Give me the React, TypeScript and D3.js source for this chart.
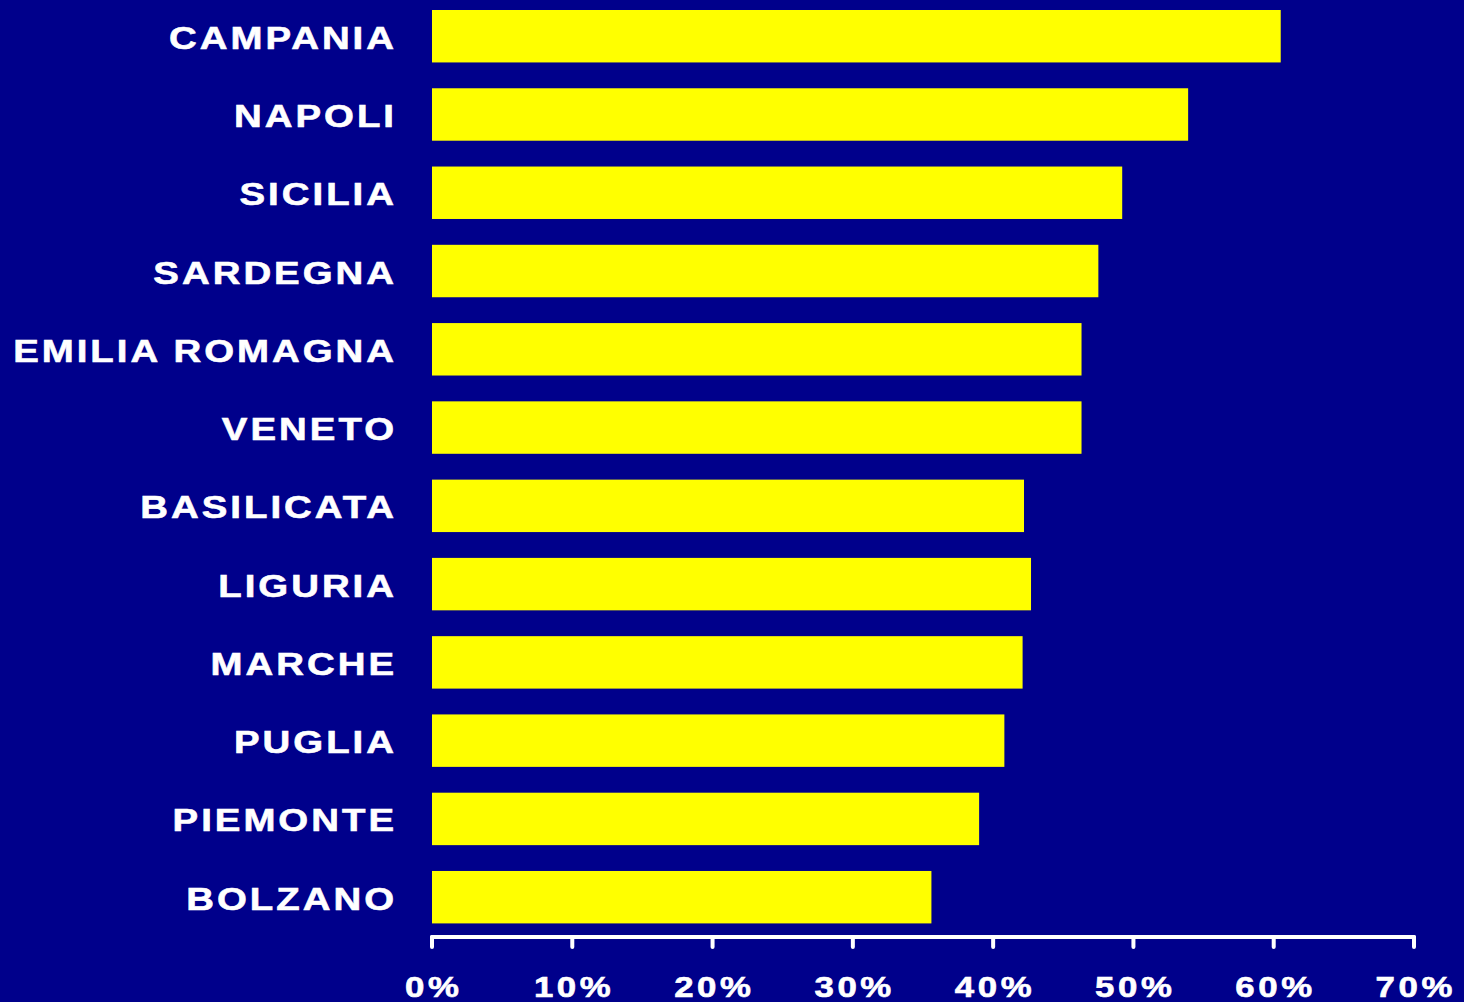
import React from "react";
import * as d3 from "d3";

const categories = [
  "CAMPANIA",
  "NAPOLI",
  "SICILIA",
  "SARDEGNA",
  "EMILIA ROMAGNA",
  "VENETO",
  "BASILICATA",
  "LIGURIA",
  "MARCHE",
  "PUGLIA",
  "PIEMONTE",
  "BOLZANO",
];
const values = [60.5, 53.9, 49.2, 47.5, 46.3, 46.3, 42.2, 42.7, 42.1, 40.8, 39.0, 35.6];
const ticks = [0, 10, 20, 30, 40, 50, 60, 70];

const W = 1464;
const H = 1002;
const BG = "#00008B";
const BAR = "#FFFF00";
const SX = 1.2;
const LS = 2.5;
const TLS = 3;

export default function App() {
  const x = d3.scaleLinear().domain([0, 70]).range([432, 1414]);
  const pad = 0.33;
  const step = 78.27;
  const r0 = 10 - pad * step;
  const y = d3
    .scaleBand<string>()
    .domain(categories)
    .range([r0, r0 + step * (categories.length + pad)])
    .padding(pad);
  const axisY = 937;

  return (
    <svg
      width={W}
      height={H}
      style={{ position: "absolute", left: 0, top: 0, background: BG }}
      fontFamily="'Liberation Sans', Arial, sans-serif"
    >
      <rect x={0} y={0} width={W} height={H} fill={BG} />
      {categories.map((c, i) => (
        <rect
          key={c}
          x={x(0)}
          y={y(c)}
          width={x(values[i]) - x(0)}
          height={y.bandwidth()}
          fill={BAR}
        />
      ))}
      {categories.map((c) => (
        <text
          key={"l" + c}
          transform={`translate(394,${(y(c) as number) + y.bandwidth() / 2 + 12.5}) scale(${SX},1)`}
          x={LS}
          y={0}
          textAnchor="end"
          fill="#fff"
          stroke="#fff"
          strokeWidth={0.6}
          fontWeight="bold"
          fontSize={32}
          letterSpacing={LS}
        >
          {c}
        </text>
      ))}
      <line
        x1={x(0)}
        x2={x(70)}
        y1={axisY}
        y2={axisY}
        stroke="#fff"
        strokeWidth={4}
        strokeLinecap="round"
      />
      {ticks.map((t) => (
        <g key={"t" + t}>
          <line
            x1={x(t)}
            x2={x(t)}
            y1={axisY}
            y2={axisY + 10}
            stroke="#fff"
            strokeWidth={4}
            strokeLinecap="round"
          />
          <text
            transform={`translate(${x(t)},997) scale(${SX},1)`}
            x={TLS / 2}
            y={0}
            textAnchor="middle"
            fill="#fff"
            stroke="#fff"
            strokeWidth={0.6}
            fontWeight="bold"
            fontSize={29}
            letterSpacing={TLS}
          >
            {t + "%"}
          </text>
        </g>
      ))}
    </svg>
  );
}
